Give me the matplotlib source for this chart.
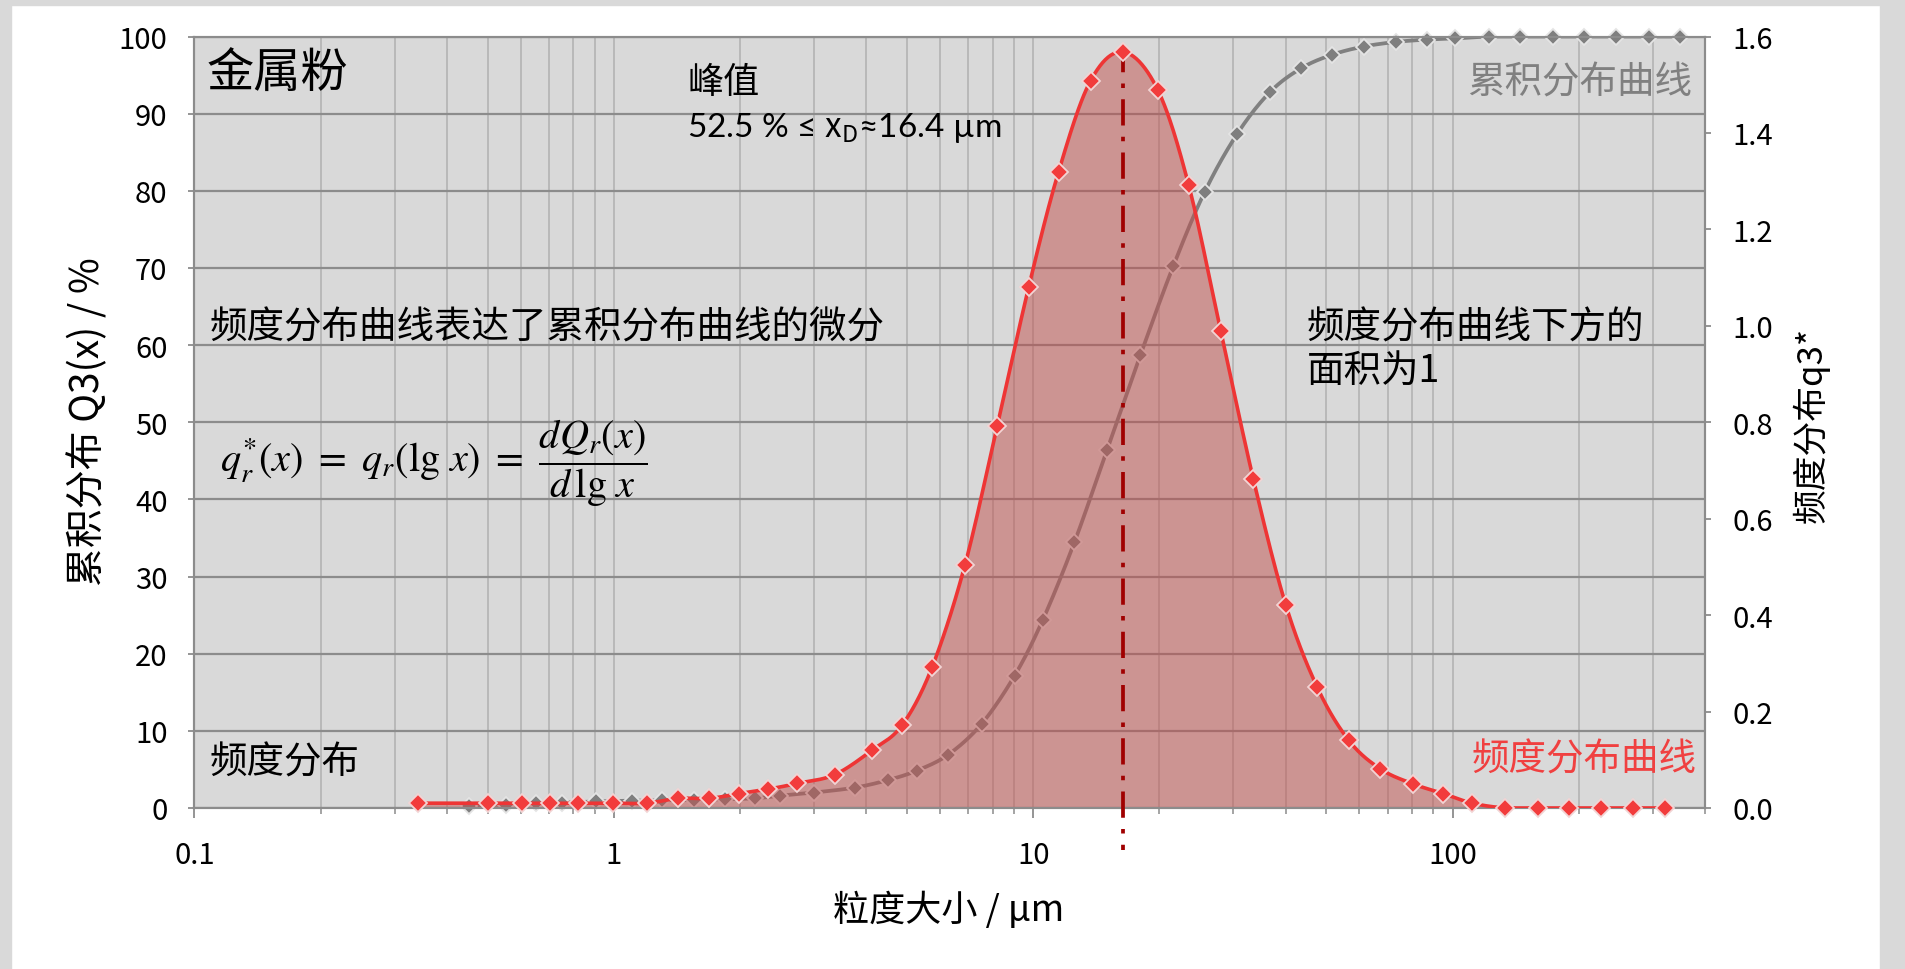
import numpy as np
import matplotlib
matplotlib.use("Agg")
import matplotlib.pyplot as plt
from matplotlib.patches import Rectangle
from matplotlib.ticker import FixedLocator, FixedFormatter, LogLocator, NullFormatter

plt.rcParams['font.family'] = ['Noto Sans CJK SC', 'DejaVu Sans']
plt.rcParams['mathtext.fontset'] = 'custom'
plt.rcParams['mathtext.rm'] = 'Noto Sans CJK SC'
plt.rcParams['mathtext.it'] = 'Noto Sans CJK SC'

# 频度分布 q3* (右轴)
red_x = [0.342, 0.501, 0.604, 0.703, 0.823, 0.995, 1.20, 1.42, 1.69, 1.99, 2.33, 2.74,
         3.36, 4.13, 4.87, 5.74, 6.87, 8.21, 9.76, 11.5, 13.7, 16.4, 19.8, 23.5, 28.0,
         33.5, 40.0, 47.6, 56.6, 67.3, 80.5, 95.0, 111.5, 133.7, 159.7, 189.7, 226, 269, 322]
red_q = [0.010, 0.010, 0.010, 0.010, 0.010, 0.010, 0.010, 0.020, 0.020, 0.030, 0.039, 0.051,
         0.069, 0.120, 0.172, 0.292, 0.503, 0.793, 1.081, 1.320, 1.508, 1.568, 1.490, 1.291,
         0.990, 0.682, 0.422, 0.250, 0.140, 0.081, 0.050, 0.030, 0.010, 0.0, 0.0, 0.0, 0.0, 0.0, 0.0]

# 累积分布 Q3 (左轴, %)
gray_x = [0.451, 0.552, 0.653, 0.753, 0.905, 1.106, 1.304, 1.552, 1.846, 2.165, 2.496, 2.998,
          3.76, 4.51, 5.27, 6.27, 7.53, 9.03, 10.54, 12.54, 15.01, 18.02, 21.57, 25.62, 30.64,
          36.66, 43.55, 51.64, 61.42, 73.49, 86.99, 101.6, 122.0, 145.2, 173.8, 205.5, 245.9,
          293.6, 349.4]
gray_Q = [0.3, 0.45, 0.6, 0.7, 0.85, 0.95, 1.0, 1.05, 1.15, 1.25, 1.6, 2.0, 2.65, 3.63, 4.83,
          6.91, 10.89, 17.15, 24.37, 34.44, 46.44, 58.72, 70.21, 79.81, 87.36, 92.77, 95.88,
          97.64, 98.7, 99.3, 99.6, 99.75, 100, 100, 100, 100, 100, 100, 100]

peak_x = 16.4
x_ticks = [0.1, 1, 10, 100]
x_tick_labels = ['0.1', '1', '10', '100']
left_ticks = list(range(0, 101, 10))
right_ticks = [0.0, 0.2, 0.4, 0.6, 0.8, 1.0, 1.2, 1.4, 1.6]


def smooth(xs, ys, n=24):
    # Glättung wie bei Excel (Catmull-Rom / Bezier) im log-x Raum
    P = np.column_stack([np.log10(xs), np.asarray(ys, float)])
    P = np.vstack([P[0], P, P[-1]])
    t = np.linspace(0, 1, n, endpoint=False)[:, None]
    segs = []
    for i in range(1, len(P) - 2):
        p0, p1, p2, p3 = P[i - 1], P[i], P[i + 1], P[i + 2]
        c1 = p1 + (p2 - p0) / 6
        c2 = p2 - (p3 - p1) / 6
        segs.append((1 - t) ** 3 * p1 + 3 * (1 - t) ** 2 * t * c1 + 3 * (1 - t) * t ** 2 * c2 + t ** 3 * p2)
    segs.append(P[-2][None, :])
    S = np.vstack(segs)
    return 10 ** S[:, 0], S[:, 1]


W, H = 1906, 970
fig = plt.figure(figsize=(W / 100, H / 100), dpi=100)
fx = lambda px: px / W
fy = lambda py: 1 - py / H

# grauer Rahmen
fig.add_artist(Rectangle((0, fy(6)), 1, 6 / H, transform=fig.transFigure, color='#d9d9d9', zorder=-5))
fig.add_artist(Rectangle((0, 0), fx(11), 1, transform=fig.transFigure, color='#d9d9d9', zorder=-5))
fig.add_artist(Rectangle((fx(1880), 0), 1 - fx(1880), 1, transform=fig.transFigure, color='#d9d9d9', zorder=-5))

L, R, T, B = 194.5, 1705, 37.5, 809
ax = fig.add_axes([fx(L), fy(B), fx(R) - fx(L), fy(T) - fy(B)])
ax.set_facecolor('#d9d9d9')
ax.set_xscale('log')
ax.set_xlim(0.1, 400)
ax.set_ylim(0, 100)

spine_c = '#8c8c8c'
for s in ax.spines.values():
    s.set_color(spine_c)
    s.set_linewidth(1.5)

ax.xaxis.set_major_locator(FixedLocator(x_ticks))
ax.xaxis.set_major_formatter(FixedFormatter(x_tick_labels))
ax.xaxis.set_minor_locator(LogLocator(base=10, subs=np.arange(2, 10)))
ax.xaxis.set_minor_formatter(NullFormatter())
ax.set_yticks(left_ticks)
ax.tick_params(axis='x', which='major', length=7, width=1.3, color=spine_c, labelsize=21, pad=16)
ax.tick_params(axis='x', which='minor', length=4.5, width=1.1, color=spine_c)
ax.tick_params(axis='y', length=4.5, width=1.3, color=spine_c, labelsize=21, pad=15)
ax.grid(axis='x', which='both', color='#b0b0b0', linewidth=1.1)
ax.grid(axis='y', which='major', color='#8c8c8c', linewidth=1.6)
ax.set_axisbelow(True)

# Summenkurve
gsx, gsy = smooth(gray_x, gray_Q)
gsy = np.clip(gsy, 0, 100)
ax.plot(gsx, gsy, color='#808080', lw=2.7, zorder=3, solid_capstyle='butt')
ax.plot(gray_x, gray_Q, ls='none', marker='D', ms=8.4, color='#7f7f7f',
        mec='#e4e4e4', mew=1.3, zorder=4, clip_on=False)

ax2 = ax.twinx()
ax2.set_ylim(0, 1.6)
ax2.set_yticks(right_ticks)
ax2.set_yticklabels([f'{v:.1f}' for v in right_ticks])
ax2.tick_params(axis='y', length=4.5, width=1.3, color=spine_c, labelsize=21, pad=15)
for s in ax2.spines.values():
    s.set_color(spine_c)
    s.set_linewidth(1.5)

rsx, rsy = smooth(red_x, red_q)
rsy = np.clip(rsy, 0, None)
ax2.fill_between(rsx, 0, rsy, color='#c0504d', alpha=0.5, lw=0, zorder=2)
ax2.plot([peak_x, peak_x], [1.58, -0.087], color='#a00000', lw=2.7,
         ls=(0, (7, 3, 1.2, 3)), zorder=3, clip_on=False)
ax2.plot(rsx, rsy, color='#ee3535', lw=2.6, zorder=4)
ax2.plot(red_x, red_q, ls='none', marker='D', ms=9.3, color='#f23c3c',
         mec='#f2d4d4', mew=1.3, zorder=5, clip_on=False)

# Beschriftungen
txt = dict(color='black', va='center', ha='left')
fig.text(fx(207), fy(75), '金属粉', fontsize=34, **txt)
fig.text(fx(687), fy(83), '峰值', fontsize=26, **txt)
fig.text(fx(687), fy(128), '52.5 % ≤ $\\mathrm{x_D}$≈16.4 µm', fontsize=24,
         family=['Lato', 'DejaVu Sans'], **txt)
fig.text(fx(210), fy(328), '频度分布曲线表达了累积分布曲线的微分', fontsize=27, **txt)
fig.text(fx(220), fy(463),
         r'$q_r^{*}(x)\ =\ q_r(\lg\,x)\ =\ \dfrac{dQ_r(x)}{d\,\lg\,x}$',
         fontsize=29, math_fontfamily='stix', **txt)
fig.text(fx(210), fy(763), '频度分布', fontsize=27, **txt)
fig.text(fx(1307), fy(328), '频度分布曲线下方的', fontsize=27, **txt)
fig.text(fx(1307), fy(371), '面积为1', fontsize=27, **txt)
fig.text(fx(1692), fy(83), '累积分布曲线', fontsize=27, color='#808080', va='center', ha='right')
fig.text(fx(1697), fy(760), '频度分布曲线', fontsize=27, color='#f04040', va='center', ha='right')

fig.text(fx(949), fy(910), '粒度大小 / µm', fontsize=26, ha='center', va='center')
fig.text(fx(87.5), fy(422), '累积分布 Q3(x) / %', fontsize=28, ha='center', va='center', rotation=90)
fig.text(fx(1811), fy(425), '频度分布q3*', fontsize=25, ha='center', va='center', rotation=90)

fig.savefig('out.png', dpi=100, facecolor='white')
